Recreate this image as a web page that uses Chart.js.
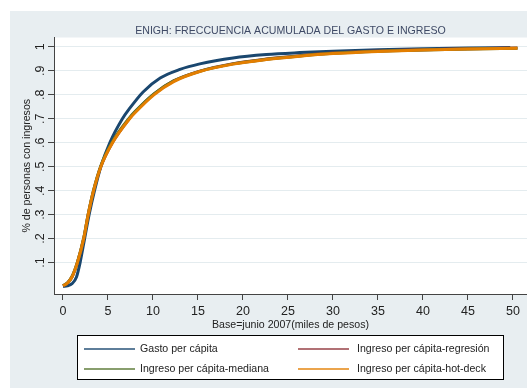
<!DOCTYPE html>
<html lang="es">
<head>
<meta charset="UTF-8">
<title>ENIGH: frecuencia acumulada</title>
<style>
  html, body { margin: 0; padding: 0; background: #fff; }
  #grafica { display: block; }
</style>
</head>
<body>
<canvas id="grafica" width="527" height="388"></canvas>
<script src="https://cdn.jsdelivr.net/npm/chart.js@4.4.1/dist/chart.umd.min.js"></script>
<script>
// miles de pesos (base junio 2007) y proporción acumulada de personas
const gastoX = [0, 0.5, 1, 1.5, 1.9, 2.4, 2.9, 3.5, 4.2, 5.2, 6.6, 7.4, 8.9, 10.8, 13, 15.2, 18.9, 22.6, 26.3, 30, 35, 40, 45, 49.7];
const gastoY = [0, 0.003, 0.012, 0.04, 0.1, 0.2, 0.3, 0.4, 0.5, 0.6, 0.7, 0.743, 0.812, 0.87, 0.906, 0.929, 0.954, 0.968, 0.976, 0.982, 0.988, 0.992, 0.995, 0.997];

const ingresoX = [0, 0.5, 1, 1.6, 2.3, 2.8, 3.4, 4.2, 5.5, 7.4, 8, 10.1, 12.3, 15.2, 18.9, 22.6, 26.3, 30, 35, 40, 45, 50.5];
const regresionY = [0.003, 0.015, 0.04, 0.1, 0.2, 0.3, 0.4, 0.5, 0.601, 0.702, 0.728, 0.803, 0.858, 0.899, 0.93, 0.949, 0.963, 0.974, 0.983, 0.988, 0.992, 0.995];
const medianaY = [0.004, 0.016, 0.042, 0.102, 0.202, 0.302, 0.402, 0.503, 0.605, 0.705, 0.73, 0.804, 0.858, 0.898, 0.929, 0.948, 0.962, 0.973, 0.982, 0.987, 0.991, 0.994];
const hotdeckY = [0.003, 0.015, 0.04, 0.1, 0.2, 0.3, 0.4, 0.5, 0.6, 0.7, 0.725, 0.8, 0.855, 0.897, 0.928, 0.947, 0.961, 0.972, 0.981, 0.987, 0.991, 0.994];

const xTicks = [0, 5, 10, 15, 20, 25, 30, 35, 40, 45, 50];
const yTicks = [0.1, 0.2, 0.3, 0.4, 0.5, 0.6, 0.7, 0.8, 0.9, 1];
const yTickLabels = ['.1', '.2', '.3', '.4', '.5', '.6', '.7', '.8', '.9', '1'];

const series = [
  { label: 'Gasto per cápita', xs: gastoX, ys: gastoY, color: '#1a476f' },
  { label: 'Ingreso per cápita-regresión', xs: ingresoX, ys: regresionY, color: '#90353b' },
  { label: 'Ingreso per cápita-mediana', xs: ingresoX, ys: medianaY, color: '#55752f' },
  { label: 'Ingreso per cápita-hot-deck', xs: ingresoX, ys: hotdeckY, color: '#e37e00' }
];

Chart.defaults.font.family = '"Liberation Sans", Arial, sans-serif';
Chart.defaults.color = '#222';

// fondo gris azulado y región de la gráfica en blanco
const fondo = {
  id: 'fondo',
  beforeDraw(chart) {
    const { ctx, width, height, chartArea: a } = chart;
    ctx.save();
    ctx.fillStyle = '#ffffff';
    ctx.fillRect(0, 0, width, height);
    ctx.fillStyle = '#e8eef1';
    ctx.fillRect(10, 11, width - 10, height - 11);
    ctx.fillStyle = '#ffffff';
    ctx.fillRect(a.left, a.top, a.right - a.left, a.bottom - a.top);
    ctx.restore();
  }
};

// leyenda en dos columnas dentro de un recuadro
const leyenda = {
  id: 'leyenda',
  afterDraw(chart) {
    const ctx = chart.ctx;
    ctx.save();
    ctx.fillStyle = '#ffffff';
    ctx.fillRect(77.5, 335.5, 426, 44);
    ctx.strokeStyle = '#000';
    ctx.lineWidth = 1;
    ctx.strokeRect(77.5, 335.5, 426, 44);
    ctx.font = '10.6px "Liberation Sans", Arial, sans-serif';
    ctx.textBaseline = 'middle';
    chart.data.datasets.forEach((ds, i) => {
      const col = i % 2;
      const y = Math.floor(i / 2) ? 369 : 349;
      const x0 = col ? 298 : 84;
      ctx.globalAlpha = 0.7;
      ctx.strokeStyle = ds.borderColor;
      ctx.lineWidth = 2;
      ctx.beginPath();
      ctx.moveTo(x0, y);
      ctx.lineTo(x0 + 51, y);
      ctx.stroke();
      ctx.globalAlpha = 1;
      ctx.fillStyle = '#222';
      ctx.fillText(ds.label, col ? 357 : 140, y);
    });
    ctx.restore();
  }
};

new Chart('grafica', {
  type: 'line',
  data: {
    datasets: series.map((s, i) => ({
      label: s.label,
      data: s.xs.map((x, j) => ({ x: x, y: s.ys[j] })),
      borderColor: s.color,
      borderWidth: 3,
      pointRadius: 0,
      fill: false,
      cubicInterpolationMode: 'monotone',
      order: series.length - 1 - i
    }))
  },
  options: {
    responsive: false,
    animation: false,
    layout: { padding: { top: 11, left: 10, right: 0, bottom: 57 } },
    plugins: {
      legend: { display: false },
      tooltip: { enabled: false },
      title: {
        display: true,
        fullSize: false,
        text: 'ENIGH: FRECCUENCIA ACUMULADA DEL GASTO E INGRESO',
        color: '#3f4a66',
        font: { size: 10.6, weight: 'normal' },
        padding: { top: 13.4, bottom: 0.4 }
      }
    },
    scales: {
      x: {
        type: 'linear',
        min: -1,
        max: 51.56,
        afterBuildTicks: s => { s.ticks = xTicks.map(v => ({ value: v })); },
        afterFit: s => { s.height = 37; },
        ticks: {
          maxRotation: 0,
          padding: 4,
          font: { size: 12.5 },
          callback: (v, i) => String(xTicks[i])
        },
        grid: { drawOnChartArea: false, tickColor: '#444', tickLength: 6 },
        border: { color: '#444', width: 1 },
        title: {
          display: true,
          text: 'Base=junio 2007(miles de pesos)',
          font: { size: 10.6 },
          padding: 0
        }
      },
      y: {
        type: 'linear',
        min: -0.031,
        max: 1.039,
        afterBuildTicks: s => { s.ticks = yTicks.map(v => ({ value: v })); },
        afterFit: s => { s.width = 44; },
        ticks: {
          minRotation: 90,
          maxRotation: 90,
          crossAlign: 'center',
          padding: 2,
          font: { size: 12.5 },
          callback: (v, i) => yTickLabels[i]
        },
        grid: { color: '#e4ecef', tickColor: '#444', tickLength: 6 },
        border: { color: '#444', width: 1 },
        title: {
          display: true,
          text: '% de personas con ingresos',
          font: { size: 10.6 },
          padding: { top: 11, bottom: 0 }
        }
      }
    }
  },
  plugins: [fondo, leyenda]
});
</script>
</body>
</html>
